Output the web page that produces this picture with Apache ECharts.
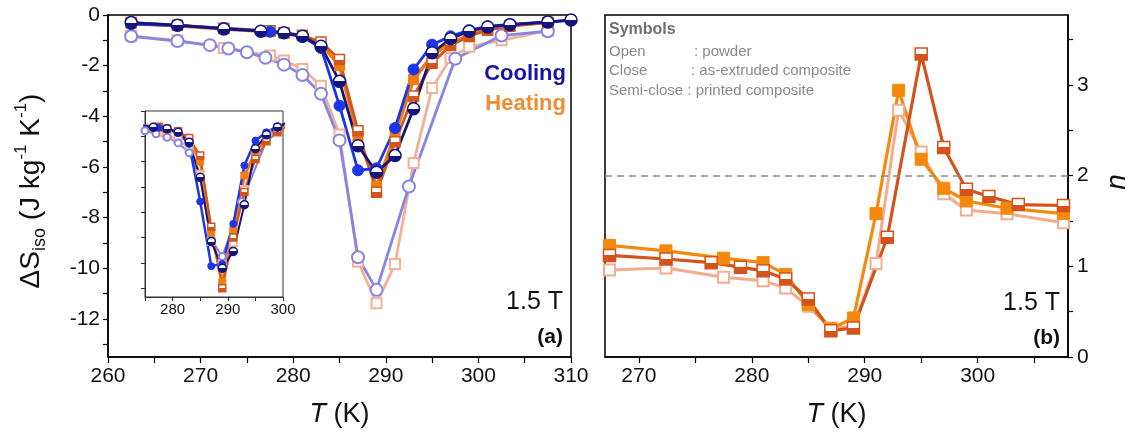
<!DOCTYPE html>
<html>
<head>
<meta charset="utf-8">
<script src="https://cdn.jsdelivr.net/npm/echarts/dist/echarts.min.js"></script>
<style>
  html, body { margin: 0; padding: 0; background: #fff; }
  #chart { width: 1130px; height: 441px; }
</style>
</head>
<body>
<div id="chart"></div>
<script>
// ---- panel (a): entropy change, J kg-1 K-1 ----
const tPowderC = [262.5, 267.5, 271, 273, 275, 277, 279, 281, 283, 285, 287, 289, 292.5, 297.5, 302.5, 307.5];
const dsPowderC = [-0.84, -1.03, -1.19, -1.32, -1.47, -1.69, -1.96, -2.37, -3.11, -4.95, -9.56, -10.85, -6.77, -1.73, -0.81, -0.64];

const tPowderH = [262.5, 267.5, 272.5, 277.5, 279, 281, 283, 285, 287, 289, 291, 293, 295, 297, 299, 302.5, 307.5];
const dsPowderH = [-0.82, -1.0, -1.3, -1.6, -1.8, -2.13, -2.79, -4.72, -9.73, -11.38, -9.83, -5.84, -2.88, -1.7, -1.25, -1.0, -0.62];

const tExtC = [262.5, 267.5, 272.5, 277.5, 279, 281, 283, 285, 287, 289, 291, 293, 295, 297, 299, 301, 303.4, 307.5, 310];
const dsExtC = [-0.36, -0.42, -0.52, -0.66, -0.72, -0.86, -1.3, -3.58, -6.13, -6.05, -4.46, -2.15, -1.17, -0.84, -0.6, -0.45, -0.37, -0.27, -0.2];

const tPrC = [262.5, 267.5, 272.5, 276.5, 279, 281, 283, 285, 287, 289, 291, 293, 295, 297, 299, 301, 303.4, 307.5, 310];
const dsPrC = [-0.3, -0.4, -0.55, -0.64, -0.7, -0.84, -1.23, -2.62, -5.16, -6.21, -5.55, -3.7, -1.49, -0.94, -0.64, -0.47, -0.38, -0.28, -0.2];

const tHeat = [262.5, 267.5, 272.5, 277.5, 279, 281, 283, 285, 287, 289, 291, 293, 295, 297, 299, 301, 303.4, 307.5];
const dsExtH = [-0.33, -0.42, -0.55, -0.66, -0.72, -0.82, -1.15, -2.0, -4.8, -6.77, -4.7, -2.55, -1.6, -1.1, -0.8, -0.55, -0.42, -0.28];
const dsPrH = [-0.3, -0.4, -0.52, -0.62, -0.7, -0.8, -1.07, -1.76, -4.57, -7.0, -5.0, -3.2, -1.9, -1.2, -0.84, -0.6, -0.44, -0.3];

// inset: powder curves drawn on the composite scale
const tInsetPowderC = [271, 273, 275, 277, 279, 281, 283, 285, 287, 289, 292.5, 297.5, 302.5];
const dsInsetPowderC = [-0.63, -0.7, -0.78, -0.9, -1.04, -1.26, -1.65, -2.62, -5.07, -5.75, -3.59, -0.92, -0.43];
const tInsetPowderH = [272.5, 277.5, 279, 281, 283, 285, 287, 289, 291, 293, 295, 297, 299, 302.5];
const dsInsetPowderH = [-0.69, -0.85, -0.95, -1.13, -1.48, -2.5, -5.16, -6.03, -5.21, -3.1, -1.53, -0.9, -0.66, -0.53];

// ---- panel (b): exponent n ----
const tNPowder = [267.4, 272.4, 277.5, 281, 283, 285, 287, 289, 291, 293, 295, 297, 299, 302.6, 307.6];
const nPowder = [0.96, 0.98, 0.88, 0.84, 0.76, 0.56, 0.32, 0.34, 1.03, 2.72, 2.26, 1.8, 1.62, 1.58, 1.48];
const tNExt = [267.4, 272.4, 277.5, 281, 283, 285, 287, 289, 291, 293, 295, 297, 299, 302.6, 307.6];
const nExt = [1.23, 1.17, 1.09, 1.04, 0.91, 0.58, 0.31, 0.43, 1.58, 2.94, 2.18, 1.86, 1.72, 1.64, 1.58];
const tNPr = [267.4, 272.4, 276.4, 279, 281, 283, 285, 287, 289, 292, 295, 297, 299, 301, 303.6, 307.6];
const nPr = [1.12, 1.08, 1.04, 0.99, 0.95, 0.86, 0.64, 0.29, 0.32, 1.32, 3.34, 2.31, 1.85, 1.77, 1.68, 1.67];

// ticks / labels
const xLabelsA = [260, 270, 280, 290, 300, 310];
const xTicksA = [260, 265, 270, 275, 280, 285, 290, 295, 300, 305, 310];
const yLabelsA = [0, -2, -4, -6, -8, -10, -12];
const yTicksA = [0, -1, -2, -3, -4, -5, -6, -7, -8, -9, -10, -11, -12, -13];
const xLabelsInset = [280, 290, 300];
const xTicksInset = [275, 280, 285, 290, 295, 300];
const yTicksInset = [0, -1, -2, -3, -4, -5, -6, -7];
const xLabelsB = [270, 280, 290, 300];
const xTicksB = [270, 275, 280, 285, 290, 295, 300, 305];
const yLabelsB = [0, 1, 2, 3];
const yTicksB = [0, 0.5, 1, 1.5, 2, 2.5, 3, 3.5];

const FONT = '"Liberation Sans", Arial, sans-serif';
const C = {
  powderC: '#8585e6', powderH: '#f3b094',
  extC: '#1b35e8', prC: '#14147e',
  extH: '#f07c12', prH: '#d2551a',
  nPowder: '#f2ad90', nExt: '#f5890c', nPr: '#d3531a'
};

const pts = (t, v) => t.map((x, i) => [x, v[i]]);

function line(name, t, v, color, kind, symbol, size, width, xi, yi, z) {
  let item;
  if (kind === 'open') item = { color: '#fff', borderColor: color, borderWidth: 2 };
  else if (kind === 'closed') item = { color: color, borderColor: color, borderWidth: 1 };
  else item = {
    color: { type: 'linear', x: 0, y: 0, x2: 0, y2: 1, colorStops: [
      { offset: 0, color: '#fff' }, { offset: 0.5, color: '#fff' },
      { offset: 0.5, color: color }, { offset: 1, color: color }] },
    borderColor: color, borderWidth: 1.5
  };
  return {
    name, type: 'line', xAxisIndex: xi, yAxisIndex: yi, data: pts(t, v),
    symbol, symbolSize: size, showSymbol: true, z: z || 2,
    itemStyle: item, lineStyle: { color, width },
    silent: true, animation: false
  };
}

function axis(extra) {
  return Object.assign({
    type: 'value', splitLine: { show: false },
    axisLine: { show: true, onZero: false, lineStyle: { color: '#000', width: 1.5 } }
  }, extra);
}
function ticks(values, length, color, width) {
  return { show: true, length, customValues: values, lineStyle: { color, width } };
}
function labels(values, size, margin) {
  return { show: true, fontSize: size, color: '#111', fontFamily: FONT, margin, customValues: values, hideOverlap: false };
}

const xName = {
  name: '{i|T} (K)', nameLocation: 'middle', nameGap: 44,
  nameTextStyle: { fontSize: 27, color: '#111', fontFamily: FONT,
    rich: { i: { fontStyle: 'italic', fontSize: 27, fontFamily: FONT, color: '#111' } } }
};
const insetLine = { show: true, onZero: false, lineStyle: { color: '#333', width: 1 } };

const chart = echarts.init(document.getElementById('chart'));

chart.setOption({
  backgroundColor: '#fff',
  animation: false,
  grid: [
    { left: 108, top: 15, width: 463, height: 342, show: true, borderColor: '#000', borderWidth: 1.5 },
    { left: 145, top: 111, width: 138, height: 186, show: true, borderColor: '#333', borderWidth: 1, backgroundColor: '#fff', z: 5 },
    { left: 605, top: 15, width: 463, height: 342, show: true, borderColor: '#000', borderWidth: 1.5 }
  ],
  xAxis: [
    axis(Object.assign({ gridIndex: 0, min: 260, max: 310,
      axisTick: ticks(xTicksA, 6, '#000', 1.2), axisLabel: labels(xLabelsA, 21, 9) }, xName)),
    axis({ gridIndex: 1, min: 275, max: 300, z: 6, axisLine: insetLine,
      axisTick: ticks(xTicksInset, 4, '#333', 1), axisLabel: labels(xLabelsInset, 15, 5) }),
    axis(Object.assign({ gridIndex: 2, min: 267, max: 308,
      axisTick: ticks(xTicksB, 6, '#000', 1.2), axisLabel: labels(xLabelsB, 21, 9) }, xName))
  ],
  yAxis: [
    axis({ gridIndex: 0, min: -13.5, max: 0,
      axisTick: ticks(yTicksA, 5, '#000', 1.2), axisLabel: labels(yLabelsA, 21, 8) }),
    axis({ gridIndex: 1, min: -7.35, max: 0, z: 6, axisLine: insetLine,
      axisTick: ticks(yTicksInset, 4, '#333', 1), axisLabel: { show: false } }),
    axis({ gridIndex: 2, position: 'right', min: 0, max: 3.77,
      axisTick: ticks(yTicksB, 5, '#000', 1.2), axisLabel: labels(yLabelsB, 21, 9) })
  ],
  series: [
    // panel (a)
    line('powder heating', tPowderH, dsPowderH, C.powderH, 'open', 'rect', 10, 2.8, 0, 0),
    line('powder cooling', tPowderC, dsPowderC, C.powderC, 'open', 'circle', 12, 2.8, 0, 0),
    line('extruded heating', tHeat, dsExtH, C.extH, 'closed', 'rect', 10, 3.5, 0, 0),
    line('printed heating', tHeat, dsPrH, C.prH, 'semi', 'rect', 10, 2.8, 0, 0),
    line('extruded cooling', tExtC, dsExtC, C.extC, 'closed', 'circle', 11, 2.8, 0, 0),
    line('printed cooling', tPrC, dsPrC, C.prC, 'semi', 'circle', 12, 2.8, 0, 0),
    // inset
    line('inset powder heating', tInsetPowderH, dsInsetPowderH, C.powderH, 'open', 'rect', 7, 2, 1, 1, 7),
    line('inset powder cooling', tInsetPowderC, dsInsetPowderC, C.powderC, 'open', 'circle', 7, 2, 1, 1, 7),
    line('inset extruded heating', tHeat, dsExtH, C.extH, 'closed', 'rect', 7, 3, 1, 1, 7),
    line('inset printed heating', tHeat, dsPrH, C.prH, 'semi', 'rect', 7, 2, 1, 1, 7),
    line('inset extruded cooling', tExtC, dsExtC, C.extC, 'closed', 'circle', 7, 2.5, 1, 1, 7),
    line('inset printed cooling', tPrC, dsPrC, C.prC, 'semi', 'circle', 8, 2, 1, 1, 7),
    // panel (b)
    Object.assign(line('n powder', tNPowder, nPowder, C.nPowder, 'open', 'rect', 11, 3, 2, 2), {
      markLine: { silent: true, symbol: ['none', 'none'], label: { show: false },
        lineStyle: { color: '#8a8a8a', type: [7, 5], width: 1.5 }, data: [{ yAxis: 2 }] }
    }),
    line('n extruded', tNExt, nExt, C.nExt, 'closed', 'rect', 12, 3.2, 2, 2),
    line('n printed', tNPr, nPr, C.nPr, 'semi', 'rect', 12, 3.2, 2, 2)
  ],
  graphic: [
    { type: 'text', x: 31, y: 191, rotation: Math.PI / 2, silent: true,
      style: { text: '{a|ΔS}{b|iso}{a| (J kg}{c|-1}{a| K}{c|-1}{a|)}', align: 'center', verticalAlign: 'middle',
        rich: {
          a: { fontSize: 28, fontFamily: FONT, fill: '#111', lineHeight: 36 },
          b: { fontSize: 18, fontFamily: FONT, fill: '#111', lineHeight: 20, verticalAlign: 'bottom' },
          c: { fontSize: 17, fontFamily: FONT, fill: '#111', lineHeight: 20, verticalAlign: 'top' }
        } } },
    { type: 'text', x: 1117, y: 182, rotation: Math.PI / 2, silent: true,
      style: { text: 'n', font: 'italic 28px ' + FONT, fill: '#111', align: 'center', verticalAlign: 'middle' } },
    { type: 'text', x: 566, y: 74, silent: true,
      style: { text: 'Cooling', font: 'bold 22px ' + FONT, fill: '#1616a6', align: 'right', verticalAlign: 'middle' } },
    { type: 'text', x: 566, y: 104, silent: true,
      style: { text: 'Heating', font: 'bold 22px ' + FONT, fill: '#f08c34', align: 'right', verticalAlign: 'middle' } },
    { type: 'text', x: 563, y: 302, silent: true,
      style: { text: '1.5 T', font: '25px ' + FONT, fill: '#111', align: 'right', verticalAlign: 'middle' } },
    { type: 'text', x: 563, y: 337, silent: true,
      style: { text: '(a)', font: 'bold 21px ' + FONT, fill: '#111', align: 'right', verticalAlign: 'middle' } },
    { type: 'text', x: 1060, y: 303, silent: true,
      style: { text: '1.5 T', font: '25px ' + FONT, fill: '#111', align: 'right', verticalAlign: 'middle' } },
    { type: 'text', x: 1060, y: 338, silent: true,
      style: { text: '(b)', font: 'bold 21px ' + FONT, fill: '#111', align: 'right', verticalAlign: 'middle' } },
    { type: 'text', x: 609, y: 30, silent: true,
      style: { text: 'Symbols', font: 'bold 16px ' + FONT, fill: '#707070', verticalAlign: 'middle' } },
    { type: 'text', x: 609, y: 52, silent: true,
      style: { text: 'Open', font: '15px ' + FONT, fill: '#8a8a8a', verticalAlign: 'middle' } },
    { type: 'text', x: 694, y: 52, silent: true,
      style: { text: ': powder', font: '15px ' + FONT, fill: '#8a8a8a', verticalAlign: 'middle' } },
    { type: 'text', x: 609, y: 71, silent: true,
      style: { text: 'Close', font: '15px ' + FONT, fill: '#8a8a8a', verticalAlign: 'middle' } },
    { type: 'text', x: 691, y: 71, silent: true,
      style: { text: ': as-extruded composite', font: '15px ' + FONT, fill: '#8a8a8a', verticalAlign: 'middle' } },
    { type: 'text', x: 609, y: 91, silent: true,
      style: { text: 'Semi-close : printed composite', font: '15px ' + FONT, fill: '#8a8a8a', verticalAlign: 'middle' } }
  ]
});
</script>
</body>
</html>
